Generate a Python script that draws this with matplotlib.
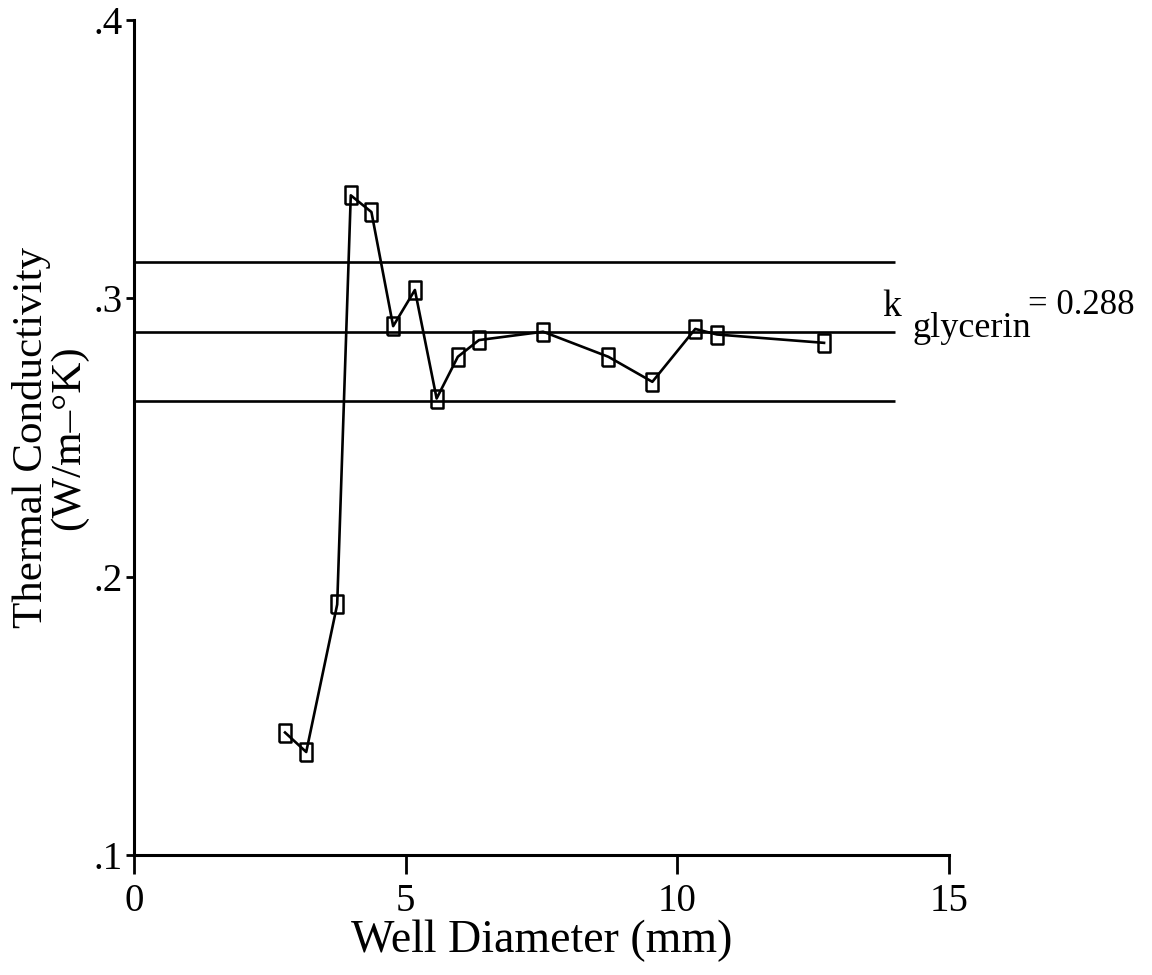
import matplotlib
matplotlib.use("Agg")
import matplotlib.pyplot as plt
from matplotlib.ticker import FixedLocator, FixedFormatter

# Measured thermal conductivity versus well diameter
diameter_mm = [2.78, 3.17, 3.74, 3.99, 4.37, 4.77, 5.17, 5.57, 5.96, 6.35,
               7.53, 8.73, 9.54, 10.33, 10.73, 12.70]
conductivity = [0.144, 0.137, 0.190, 0.337, 0.331, 0.290, 0.303, 0.264, 0.279, 0.285,
                0.288, 0.279, 0.270, 0.289, 0.287, 0.284]

# Reference value for glycerin and its band
k_glycerin = 0.288
band_levels = [0.313, 0.288, 0.263]
band_xmax = 14.0

x_ticks = [0, 5, 10, 15]
x_tick_labels = ["0", "5", "10", "15"]
y_ticks = [0.1, 0.2, 0.3, 0.4]
y_tick_labels = [".1", ".2", ".3", ".4"]

plt.rcParams["font.family"] = ["Liberation Serif", "DejaVu Serif"]

fig = plt.figure(figsize=(11.52, 9.75), dpi=100)
ax = fig.add_axes([0.1163, 0.1231, 0.7075, 0.8564])

for level in band_levels:
    ax.hlines(level, 0, band_xmax, color="black", linewidth=1.9, zorder=1)

# Tall open rectangle marker
rect_marker = [(-0.35, -0.5), (0.35, -0.5), (0.35, 0.5), (-0.35, 0.5), (-0.35, -0.5)]
ax.plot(diameter_mm, conductivity, color="black", linewidth=1.9,
        marker=rect_marker, markersize=12.5, markerfacecolor="none",
        markeredgecolor="black", markeredgewidth=1.8, zorder=3)

ax.set_xlim(0, 15)
ax.set_ylim(0.1, 0.4)

for side in ("top", "right"):
    ax.spines[side].set_visible(False)
for side in ("left", "bottom"):
    ax.spines[side].set_linewidth(2.2)

ax.xaxis.set_major_locator(FixedLocator(x_ticks))
ax.xaxis.set_major_formatter(FixedFormatter(x_tick_labels))
ax.yaxis.set_major_locator(FixedLocator(y_ticks))
ax.yaxis.set_major_formatter(FixedFormatter(y_tick_labels))

ax.tick_params(axis="x", direction="out", length=14, width=2.0, labelsize=28, pad=6)
ax.tick_params(axis="y", direction="out", length=6, width=2.0, labelsize=28, pad=2)

ax.set_xlabel("Well Diameter (mm)", fontsize=33, labelpad=0)
ax.set_ylabel("Thermal Conductivity\n(W/m\u2013\u00b0K)", fontsize=31,
              linespacing=0.95, labelpad=4)

# Glycerin reference annotation
ax.text(13.78, 0.2935, "k", fontsize=27, ha="left", va="baseline", clip_on=False)
ax.text(14.33, 0.2862, "glycerin", fontsize=26, ha="left", va="baseline", clip_on=False)
ax.text(16.45, 0.2945, f"= {k_glycerin:.3f}", fontsize=25, ha="left", va="baseline",
        clip_on=False)

fig.savefig("out.png", dpi=100)
